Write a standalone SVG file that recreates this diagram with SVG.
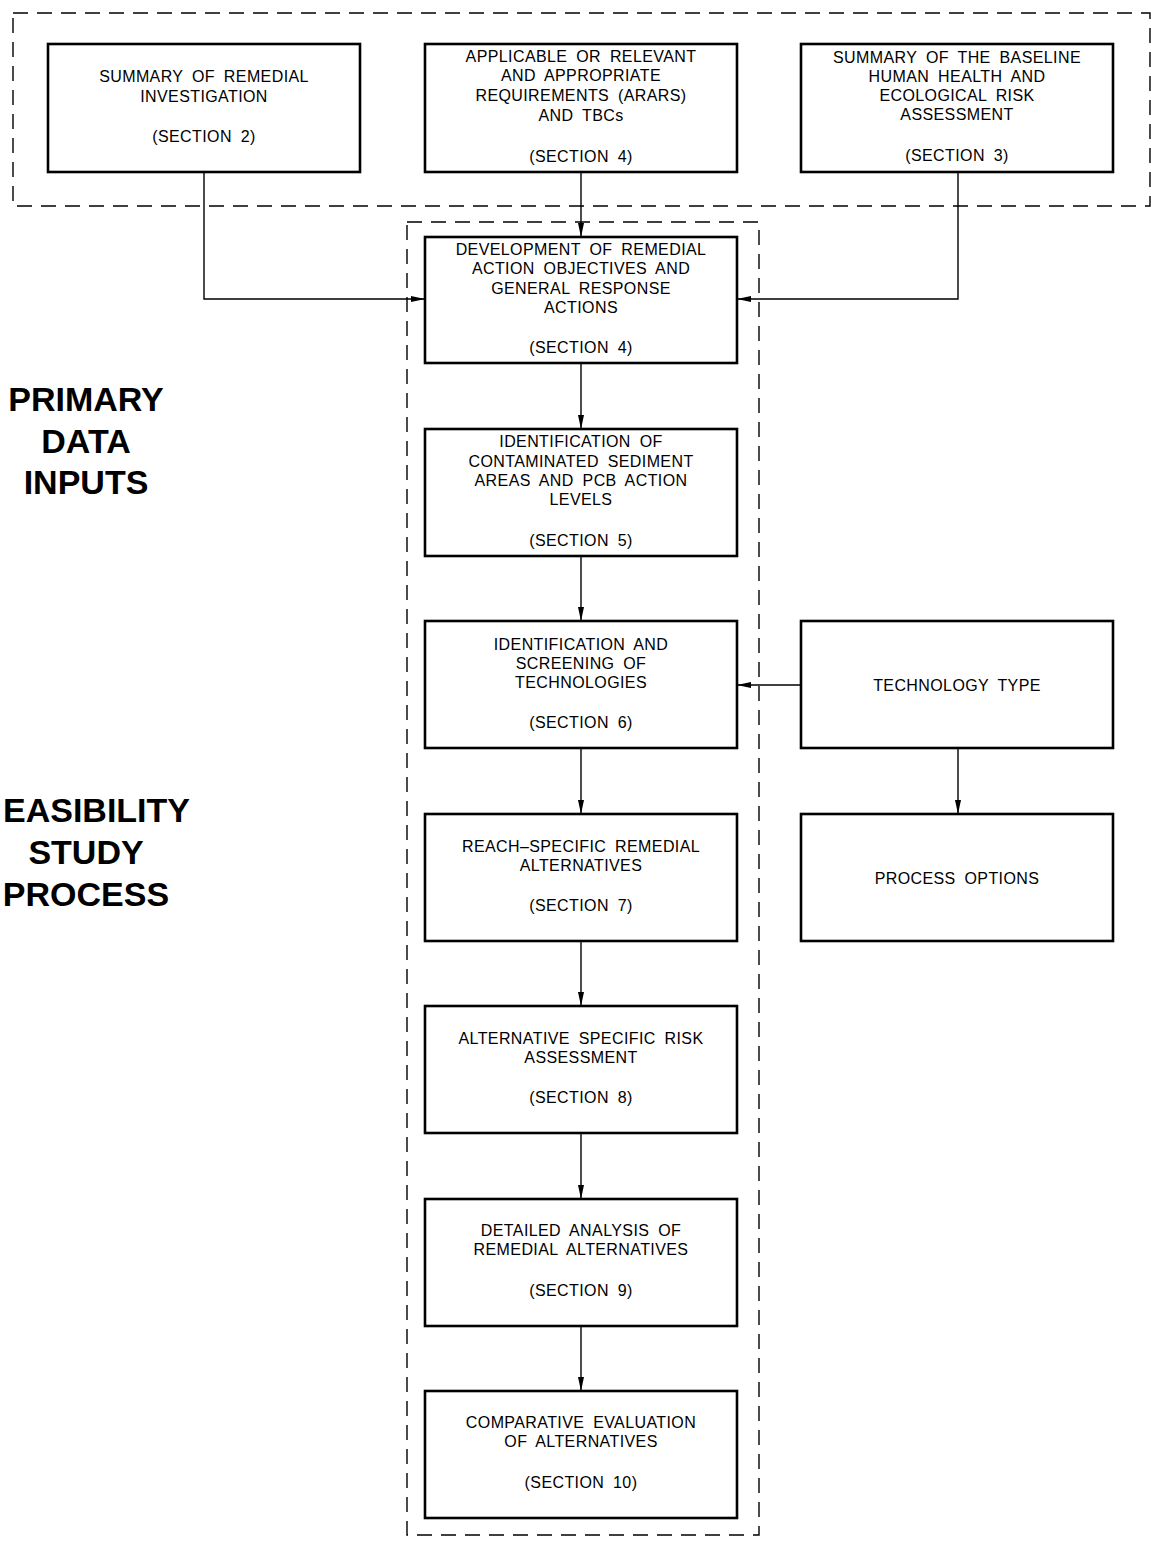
<svg xmlns="http://www.w3.org/2000/svg" width="1151" height="1543" viewBox="0 0 1151 1543">
<style>
.bg{fill:#fff}
.box{fill:#fff;stroke:#000;stroke-width:2.6}
.dash{fill:none;stroke:#000;stroke-width:1.4;stroke-dasharray:15 9}
.conn{fill:none;stroke:#000;stroke-width:1.4}
.t{font-family:"Liberation Sans",Arial,sans-serif;font-size:16px;text-anchor:middle;fill:#000;letter-spacing:0.4px;word-spacing:4px}
.big{font-family:"Liberation Sans",Arial,sans-serif;font-size:34px;font-weight:bold;fill:#000}
</style>
<defs>
<marker id="ah" markerWidth="14" markerHeight="8" refX="14" refY="4" orient="auto" markerUnits="userSpaceOnUse">
<path d="M0,1 L14,4 L0,7 Z" fill="#000"/>
</marker>
</defs>
<rect class="bg" x="0" y="0" width="1151" height="1543"/>
<g id="groups">
<rect class="dash" x="13" y="13" width="1137" height="193"/>
<rect class="dash" x="407" y="222" width="352" height="1313"/>
</g>
<g id="labels">
<text class="big" x="86" y="411" text-anchor="middle">PRIMARY</text>
<text class="big" x="86" y="453" text-anchor="middle">DATA</text>
<text class="big" x="86" y="494" text-anchor="middle">INPUTS</text>
<text class="big" x="3" y="822">EASIBILITY</text>
<text class="big" x="86" y="864" text-anchor="middle">STUDY</text>
<text class="big" x="86" y="906" text-anchor="middle">PROCESS</text>
</g>
<g id="connectors">
<path class="conn" d="M204,172 V299 H425" marker-end="url(#ah)"/>
<path class="conn" d="M958,172 V299 H737" marker-end="url(#ah)"/>
<path class="conn" d="M581,172 V237" marker-end="url(#ah)"/>
<path class="conn" d="M581,363 V429" marker-end="url(#ah)"/>
<path class="conn" d="M581,556 V621" marker-end="url(#ah)"/>
<path class="conn" d="M581,748 V814" marker-end="url(#ah)"/>
<path class="conn" d="M581,941 V1006" marker-end="url(#ah)"/>
<path class="conn" d="M581,1133 V1199" marker-end="url(#ah)"/>
<path class="conn" d="M581,1326 V1391" marker-end="url(#ah)"/>
<path class="conn" d="M801,685 H737" marker-end="url(#ah)"/>
<path class="conn" d="M958,748 V814" marker-end="url(#ah)"/>
</g>
<g id="n-ri">
<rect class="box" x="48" y="44" width="312" height="128"/>
<text class="t" x="204" y="82">SUMMARY OF REMEDIAL</text>
<text class="t" x="204" y="102">INVESTIGATION</text>
<text class="t" x="204" y="142">(SECTION 2)</text>
</g>
<g id="n-arars">
<rect class="box" x="425" y="44" width="312" height="128"/>
<text class="t" x="581" y="62">APPLICABLE OR RELEVANT</text>
<text class="t" x="581" y="81">AND APPROPRIATE</text>
<text class="t" x="581" y="101">REQUIREMENTS (ARARS)</text>
<text class="t" x="581" y="121">AND TBCs</text>
<text class="t" x="581" y="162">(SECTION 4)</text>
</g>
<g id="n-risk">
<rect class="box" x="801" y="44" width="312" height="128"/>
<text class="t" x="957" y="63">SUMMARY OF THE BASELINE</text>
<text class="t" x="957" y="82">HUMAN HEALTH AND</text>
<text class="t" x="957" y="101">ECOLOGICAL RISK</text>
<text class="t" x="957" y="120">ASSESSMENT</text>
<text class="t" x="957" y="161">(SECTION 3)</text>
</g>
<g id="n-rao">
<rect class="box" x="425" y="237" width="312" height="126"/>
<text class="t" x="581" y="255">DEVELOPMENT OF REMEDIAL</text>
<text class="t" x="581" y="274">ACTION OBJECTIVES AND</text>
<text class="t" x="581" y="294">GENERAL RESPONSE</text>
<text class="t" x="581" y="313">ACTIONS</text>
<text class="t" x="581" y="353">(SECTION 4)</text>
</g>
<g id="n-areas">
<rect class="box" x="425" y="429" width="312" height="127"/>
<text class="t" x="581" y="447">IDENTIFICATION OF</text>
<text class="t" x="581" y="467">CONTAMINATED SEDIMENT</text>
<text class="t" x="581" y="486">AREAS AND PCB ACTION</text>
<text class="t" x="581" y="505">LEVELS</text>
<text class="t" x="581" y="546">(SECTION 5)</text>
</g>
<g id="n-tech">
<rect class="box" x="425" y="621" width="312" height="127"/>
<text class="t" x="581" y="650">IDENTIFICATION AND</text>
<text class="t" x="581" y="669">SCREENING OF</text>
<text class="t" x="581" y="688">TECHNOLOGIES</text>
<text class="t" x="581" y="728">(SECTION 6)</text>
</g>
<g id="n-reach">
<rect class="box" x="425" y="814" width="312" height="127"/>
<text class="t" x="581" y="852">REACH–SPECIFIC REMEDIAL</text>
<text class="t" x="581" y="871">ALTERNATIVES</text>
<text class="t" x="581" y="911">(SECTION 7)</text>
</g>
<g id="n-altrisk">
<rect class="box" x="425" y="1006" width="312" height="127"/>
<text class="t" x="581" y="1044">ALTERNATIVE SPECIFIC RISK</text>
<text class="t" x="581" y="1063">ASSESSMENT</text>
<text class="t" x="581" y="1103">(SECTION 8)</text>
</g>
<g id="n-detailed">
<rect class="box" x="425" y="1199" width="312" height="127"/>
<text class="t" x="581" y="1236">DETAILED ANALYSIS OF</text>
<text class="t" x="581" y="1255">REMEDIAL ALTERNATIVES</text>
<text class="t" x="581" y="1296">(SECTION 9)</text>
</g>
<g id="n-compare">
<rect class="box" x="425" y="1391" width="312" height="127"/>
<text class="t" x="581" y="1428">COMPARATIVE EVALUATION</text>
<text class="t" x="581" y="1447">OF ALTERNATIVES</text>
<text class="t" x="581" y="1488">(SECTION 10)</text>
</g>
<g id="n-techtype">
<rect class="box" x="801" y="621" width="312" height="127"/>
<text class="t" x="957" y="691">TECHNOLOGY TYPE</text>
</g>
<g id="n-process">
<rect class="box" x="801" y="814" width="312" height="127"/>
<text class="t" x="957" y="884">PROCESS OPTIONS</text>
</g>
</svg>
